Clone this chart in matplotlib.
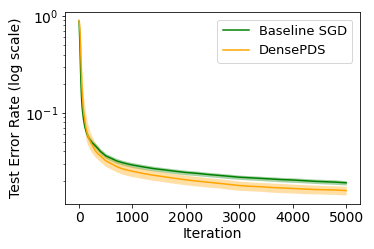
import numpy as np
import matplotlib.pyplot as plt

# iterations at which values were read
iters = [0, 10, 20, 30, 40, 50, 60, 80, 100, 125, 150, 175, 200, 250, 300,
         350, 400, 450, 500, 600, 700, 800, 900, 1000, 1200, 1400, 1600,
         1800, 2000, 2200, 2400, 2600, 2800, 3000, 3200, 3400, 3600, 3800,
         4000, 4200, 4400, 4600, 4800, 5000]

sgd = [0.88, 0.62, 0.40, 0.25, 0.17, 0.13, 0.11, 0.088, 0.075, 0.066, 0.060,
       0.056, 0.053, 0.049, 0.046, 0.043, 0.040, 0.038, 0.036, 0.034, 0.032,
       0.0308, 0.0298, 0.029, 0.0277, 0.0266, 0.0258, 0.025, 0.0243, 0.0238,
       0.0232, 0.0227, 0.0222, 0.0217, 0.0214, 0.0211, 0.0208, 0.0205,
       0.0203, 0.0200, 0.0197, 0.0195, 0.0193, 0.0190]
sgd_lo = [0.86, 0.58, 0.37, 0.23, 0.155, 0.12, 0.10, 0.081, 0.069, 0.061,
          0.056, 0.052, 0.049, 0.046, 0.043, 0.040, 0.0375, 0.0356, 0.0338,
          0.032, 0.0301, 0.029, 0.0281, 0.0273, 0.0261, 0.0251, 0.0244,
          0.0236, 0.023, 0.0225, 0.022, 0.0215, 0.021, 0.0206, 0.0203, 0.02,
          0.0197, 0.0194, 0.0192, 0.019, 0.0187, 0.0185, 0.0183, 0.018]
sgd_hi = [0.90, 0.66, 0.43, 0.27, 0.185, 0.14, 0.12, 0.095, 0.081, 0.071,
          0.064, 0.060, 0.057, 0.052, 0.049, 0.046, 0.0425, 0.0404, 0.0382,
          0.036, 0.0339, 0.0326, 0.0315, 0.0307, 0.0293, 0.0281, 0.0272,
          0.0264, 0.0256, 0.0251, 0.0244, 0.0239, 0.0234, 0.0228, 0.0225,
          0.0222, 0.0219, 0.0216, 0.0214, 0.0211, 0.0208, 0.0206, 0.0204,
          0.0200]

pds = [0.90, 0.80, 0.65, 0.45, 0.30, 0.21, 0.16, 0.11, 0.090, 0.072, 0.062,
       0.056, 0.052, 0.046, 0.041, 0.038, 0.036, 0.034, 0.032, 0.030, 0.028,
       0.0266, 0.0257, 0.025, 0.0237, 0.0227, 0.0219, 0.0211, 0.0204,
       0.0198, 0.0193, 0.0188, 0.0183, 0.0178, 0.0175, 0.0173, 0.0170,
       0.0168, 0.0166, 0.0164, 0.0162, 0.0161, 0.0160, 0.0158]
pds_lo = [0.86, 0.72, 0.55, 0.36, 0.23, 0.16, 0.12, 0.085, 0.068, 0.055,
          0.048, 0.045, 0.042, 0.038, 0.035, 0.033, 0.031, 0.0295, 0.028,
          0.0262, 0.0246, 0.0234, 0.0226, 0.022, 0.021, 0.0201, 0.0194,
          0.0187, 0.0181, 0.0176, 0.0172, 0.0168, 0.0163, 0.0159, 0.0157,
          0.0155, 0.0152, 0.015, 0.0149, 0.0147, 0.0146, 0.0145, 0.0144,
          0.0142]
pds_hi = [0.94, 0.88, 0.78, 0.58, 0.40, 0.29, 0.22, 0.15, 0.125, 0.098,
          0.082, 0.072, 0.065, 0.056, 0.049, 0.045, 0.042, 0.039, 0.037,
          0.034, 0.0318, 0.0302, 0.029, 0.0282, 0.0266, 0.0254, 0.0245,
          0.0236, 0.0228, 0.0221, 0.0215, 0.021, 0.0204, 0.0198, 0.0194,
          0.0192, 0.0189, 0.0187, 0.0184, 0.0182, 0.018, 0.0178, 0.0177,
          0.0175]

plt.rcParams['font.size'] = 14
fig = plt.figure(figsize=(374/72, 249/72), dpi=72)
ax = fig.add_axes([0.174, 0.181, 0.789, 0.771])

ax.fill_between(iters, sgd_lo, sgd_hi, color='green', alpha=0.35, lw=0)
ax.fill_between(iters, pds_lo, pds_hi, color='orange', alpha=0.35, lw=0)
ax.plot(iters, sgd, color='green', lw=1.5, label='Baseline SGD')
ax.plot(iters, pds, color='orange', lw=1.5, label='DensePDS')

ax.set_yscale('log')
ax.set_ylim(0.0115, 1.1)
ax.set_xlim(-262, 5262)
ax.set_xticks([0, 1000, 2000, 3000, 4000, 5000])
ax.set_xlabel('Iteration', labelpad=2)
ax.set_ylabel('Test Error Rate (log scale)', labelpad=2)
ax.legend(loc='upper right', fontsize=13, borderaxespad=0.6)

fig.savefig('out.png', dpi=72)
